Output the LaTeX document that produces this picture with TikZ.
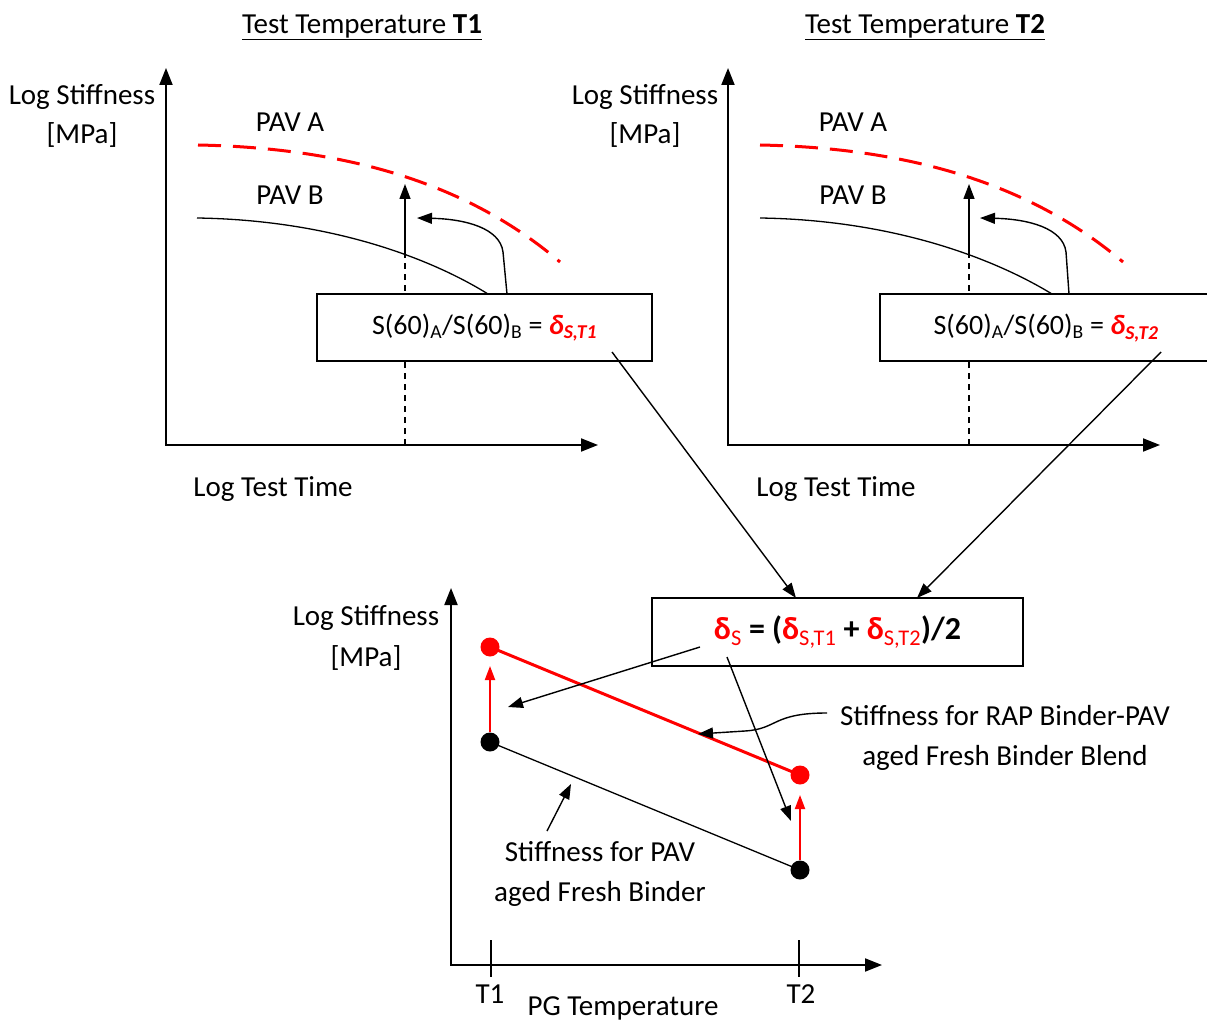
\documentclass[tikz,border=0pt]{standalone}
\usepackage{fontspec}
\setmainfont{Carlito}
\usetikzlibrary{arrows.meta}
\begin{document}
\begin{tikzpicture}[x=1pt,y=-1pt,
  lbl/.style={font=\fontsize{29}{40}\selectfont, inner sep=0pt, align=center},
  axisline/.style={line width=2pt, {Triangle[length=17pt,width=13pt]}-{Triangle[length=17pt,width=13pt]}},
  tbox/.style={draw, line width=1.5pt, fill=white, inner sep=0pt, font=\fontsize{28}{34}\selectfont},
  conn/.style={line width=1.4pt, -{Triangle[length=15pt,width=11pt]}},
  thin/.style={line width=1.3pt},
  reddash/.style={red, line width=3pt, dash pattern=on 23pt off 12pt},
  vdash/.style={line width=1.4pt, dash pattern=on 6pt off 5pt},
  redarrow/.style={red, line width=2pt, -{Triangle[length=14pt,width=10pt]}},
  dot/.style={circle, inner sep=0pt, minimum size=19pt},
]
\useasboundingbox (0,0) rectangle (1207,1024);
\clip (0,0) rectangle (1207,1024);

% ---------- Titles ----------
\node[lbl] (t1) at (362,27) {\underline{Test Temperature \textbf{T1}}};
\node[lbl] (t2) at (925,27) {\underline{Test Temperature \textbf{T2}}};

% ---------- Left chart (T1) ----------
\coordinate (ya1) at (166,68);
\coordinate (o1) at (166,445);
\coordinate (xa1) at (598,445);
\draw[axisline] (ya1) -- (o1) -- (xa1);
\node[lbl] (ls1) at (82,97) {Log Stiffness};
\node[lbl] (mp1) at (82,135) {[MPa]};
\node[lbl] (lt1) at (273,489) {Log Test Time};
\node[lbl] (pa1) at (290,122) {PAV A};
\node[lbl] (pb1) at (290,195) {PAV B};
\coordinate (a1s) at (198,145);
\coordinate (a1e) at (560,262);
\draw[reddash] (a1s) .. controls (350,148) and (470,185) .. (a1e);
\coordinate (b1s) at (197,218);
\coordinate (b1e) at (488,294);
\draw[thin] (b1s) .. controls (330,220) and (430,258) .. (b1e);
\coordinate (v1b) at (405,445);
\coordinate (v1m) at (405,254);
\coordinate (v1t) at (405,184);
\draw[vdash] (v1b) -- (v1m);
\draw[conn] (v1m) -- (v1t);
\node[tbox, minimum width=335pt, minimum height=67pt] (bx1) at (484.5,327.5)
  {S(60)\textsubscript{A}/S(60)\textsubscript{B} = {\color{red}\bfseries\itshape δ\textsubscript{S,T1}}};
\coordinate (c1s) at (507,294);
\coordinate (c1m) at (503,252);
\coordinate (c1t) at (417,218);
\draw[conn] (c1s) -- (c1m) .. controls (500,228) and (465,219) .. (c1t);

% ---------- Right chart (T2) ----------
\coordinate (ya2) at (728,68);
\coordinate (o2) at (728,445);
\coordinate (xa2) at (1160,445);
\draw[axisline] (ya2) -- (o2) -- (xa2);
\node[lbl] (ls2) at (645,97) {Log Stiffness};
\node[lbl] (mp2) at (645,135) {[MPa]};
\node[lbl] (lt2) at (836,489) {Log Test Time};
\node[lbl] (pa2) at (853,122) {PAV A};
\node[lbl] (pb2) at (853,195) {PAV B};
\coordinate (a2s) at (760,145);
\coordinate (a2e) at (1123,262);
\draw[reddash] (a2s) .. controls (912,148) and (1032,185) .. (a2e);
\coordinate (b2s) at (760,218);
\coordinate (b2e) at (1052,294);
\draw[thin] (b2s) .. controls (893,220) and (993,258) .. (b2e);
\coordinate (v2b) at (969,445);
\coordinate (v2m) at (969,254);
\coordinate (v2t) at (969,184);
\draw[vdash] (v2b) -- (v2m);
\draw[conn] (v2m) -- (v2t);
\node[tbox, minimum width=330pt, minimum height=67pt] (bx2) at (1045,327.5) {};
\node[font=\fontsize{28}{34}\selectfont, inner sep=0pt] (bx2t) at (1046,328)
  {S(60)\textsubscript{A}/S(60)\textsubscript{B} = {\color{red}\bfseries\itshape δ\textsubscript{S,T2}}};
\coordinate (c2s) at (1069,294);
\coordinate (c2m) at (1066,252);
\coordinate (c2t) at (980,218);
\draw[conn] (c2s) -- (c2m) .. controls (1063,228) and (1028,219) .. (c2t);

% ---------- Average box ----------
\node[tbox, minimum width=371pt, minimum height=68pt, font=\fontsize{32}{38}\selectfont] (bx3) at (837.5,632)
  {\bfseries{\color{red}δ\textsubscript{\mdseries S}} = ({\color{red}δ\textsubscript{\mdseries S,T1}} + {\color{red}δ\textsubscript{\mdseries S,T2}})/2};
\coordinate (bx1o) at (612,352);
\coordinate (bx2o) at (1161,352);
\coordinate (bx3a) at (796,598);
\coordinate (bx3b) at (917,598);
\draw[conn] (bx1o) -- (bx3a);
\draw[conn] (bx2o) -- (bx3b);

% ---------- Bottom chart ----------
\coordinate (ya3) at (451,588);
\coordinate (o3) at (451,965);
\coordinate (xa3) at (882,965);
\draw[axisline] (ya3) -- (o3) -- (xa3);
\coordinate (tk1a) at (491,940);
\coordinate (tk1b) at (491,977);
\coordinate (tk2a) at (799,940);
\coordinate (tk2b) at (799,977);
\draw[line width=1.5pt] (tk1a) -- (tk1b);
\draw[line width=1.5pt] (tk2a) -- (tk2b);
\node[lbl] (lT1) at (490,994) {T1};
\node[lbl] (lT2) at (801,994) {T2};
\node[lbl] (pgt) at (623,1008) {PG Temperature};
\node[lbl] (ls3) at (366,618) {Log Stiffness};
\node[lbl] (mp3) at (366,658) {[MPa]};

\node[dot, fill=black] (k1) at (490,742) {};
\node[dot, fill=black] (k2) at (800,870) {};
\node[dot, fill=red] (r1) at (490,647) {};
\node[dot, fill=red] (r2) at (800,775) {};
\draw[red, line width=3pt] (r1.center) -- (r2.center);
\draw[line width=1.3pt] (k1.center) -- (k2.center);
\coordinate (r1t) at (490,666);
\coordinate (r2t) at (800,795);
\draw[redarrow] (k1) -- (r1t);
\draw[redarrow] (k2) -- (r2t);

\coordinate (d1s) at (700,647);
\coordinate (d1t) at (508,707);
\coordinate (d2s) at (727,657);
\coordinate (d2t) at (791,821);
\draw[conn] (d1s) -- (d1t);
\draw[conn] (d2s) -- (d2t);

\node[lbl] (rap) at (1005,738) {Stiffness for RAP Binder-PAV\\aged Fresh Binder Blend};
\coordinate (e1s) at (827,713);
\coordinate (e1t) at (698,734);
\draw[conn] (e1s) .. controls (772,713) and (778,729) .. (745,731) -- (e1t);

\node[lbl] (pav) at (600,874) {Stiffness for PAV\\aged Fresh Binder};
\coordinate (f1s) at (547,831);
\coordinate (f1t) at (571,784);
\draw[conn] (f1s) -- (f1t);
\end{tikzpicture}
\end{document}
